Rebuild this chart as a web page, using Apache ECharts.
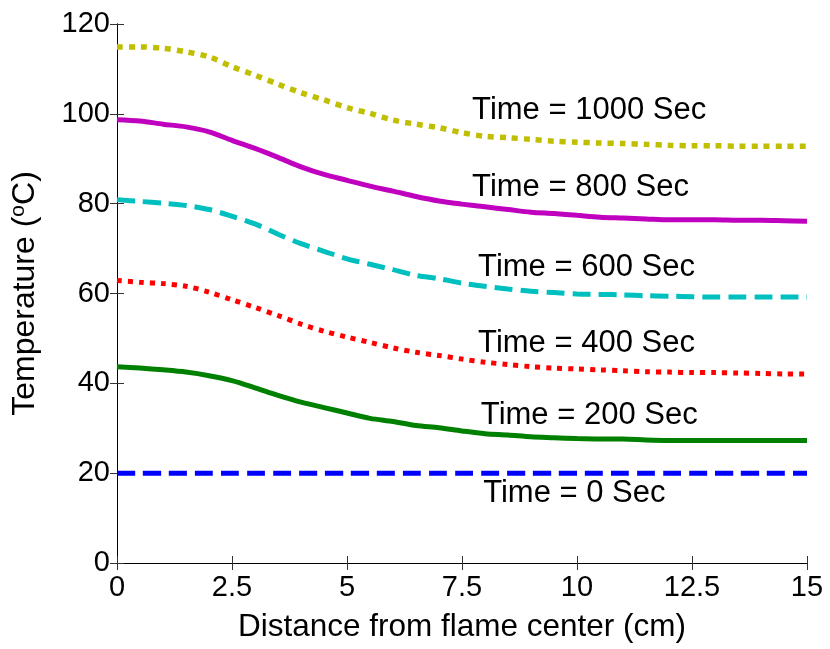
<!DOCTYPE html>
<html>
<head>
<meta charset="utf-8">
<script src="https://cdn.jsdelivr.net/npm/echarts@6/dist/echarts.min.js"></script>
<style>html,body{margin:0;padding:0;background:#fff}#c{width:830px;height:649px}</style>
</head>
<body>
<div id="c"></div>
<script>
const distance = [0,0.5,1,1.5,2,2.5,3,3.5,4,4.5,5,5.5,6,6.5,7,7.5,8,8.5,9,9.5,10,10.5,11,11.5,12,12.5,13,13.5,14,14.5,15];
const t0 = [20,20,20,20,20,20,20,20,20,20,20,20,20,20,20,20,20,20,20,20,20,20,20,20,20,20,20,20,20,20,20];
const t200 = [43.7,43.4,43.0,42.5,41.7,40.6,39.0,37.3,35.8,34.6,33.4,32.2,31.5,30.6,30.1,29.4,28.8,28.5,28.1,27.9,27.7,27.6,27.6,27.4,27.3,27.3,27.3,27.3,27.3,27.3,27.3];
const t400 = [62.9,62.5,62.2,61.6,60.3,58.6,56.9,55.1,53.2,51.6,50.3,49.1,47.9,46.9,46.2,45.4,44.7,44.2,43.7,43.4,43.2,43.0,42.8,42.6,42.5,42.4,42.4,42.3,42.2,42.1,42.1];
const t600 = [80.9,80.5,80.1,79.6,78.7,77.2,75.5,73.2,71.1,69.4,67.7,66.5,65.3,64.0,63.3,62.3,61.6,61.0,60.5,60.2,59.9,59.8,59.7,59.5,59.4,59.3,59.2,59.2,59.2,59.2,59.2];
const t800 = [98.7,98.4,97.7,97.1,96.0,94.1,92.3,90.3,88.2,86.5,85.2,83.9,82.8,81.6,80.6,79.9,79.3,78.7,78.1,77.8,77.4,77.0,76.8,76.6,76.4,76.4,76.4,76.3,76.3,76.2,76.1];
const t1000 = [114.9,114.9,114.6,113.8,112.7,110.5,108.6,106.6,104.7,103.1,101.4,100.1,98.6,97.7,96.9,95.8,95.0,94.7,94.3,93.9,93.7,93.5,93.4,93.2,93.0,92.9,92.9,92.8,92.8,92.8,92.8];
const labelTexts = ['Time = 1000 Sec','Time = 800 Sec','Time = 600 Sec','Time = 400 Sec','Time = 200 Sec','Time = 0 Sec'];
const labelX = [7.72,7.72,7.85,7.85,7.91,7.96];
const labelY = [100.8,83.7,65.9,48.8,32.8,15.4];
const xTicks = ['0','2.5','5','7.5','10','12.5','15'];

const FONT = "'Liberation Sans', Arial, sans-serif";
const chart = echarts.init(document.getElementById('c'), null, {renderer:'canvas'});
const pair = arr => distance.map((d,i)=>[d,arr[i]]);
function line(name, arr, color, type, width){
  return {name, type:'line', data:pair(arr), showSymbol:false, symbol:'none', smooth:0.3,
    lineStyle:{color, width, type, cap:'butt'}, z:2, animation:false};
}
const axisCommon = {
  axisLine:{show:true, lineStyle:{color:'#000', width:1}},
  axisTick:{show:true, inside:true, length:7, lineStyle:{color:'#333', width:1}},
  splitLine:{show:false}
};
chart.setOption({
  animation:false,
  backgroundColor:'#fff',
  grid:{left:117, right:23, top:24, bottom:86},
  xAxis:[
    Object.assign({type:'value', min:0, max:15, interval:2.5, position:'bottom',
      name:'Distance from flame center (cm)', nameLocation:'middle', nameGap:48,
      nameTextStyle:{fontSize:31.5, fontFamily:FONT, color:'#000'},
      axisLabel:{fontSize:29, fontFamily:FONT, color:'#000', margin:10,
        formatter:(v)=>xTicks[Math.round(v/2.5)]}}, axisCommon),
    Object.assign({type:'value', min:0, max:15, interval:2.5, position:'top',
      axisLabel:{show:false}}, axisCommon)
  ],
  yAxis:[
    Object.assign({type:'value', min:0, max:120, interval:20, position:'left',
      name:'Temperature ({sup|o}C)', nameLocation:'middle', nameGap:74,
      nameTextStyle:{fontSize:32, fontFamily:FONT, color:'#000',
        rich:{sup:{fontSize:21, fontFamily:FONT, color:'#000', padding:[0,0,14,0]}}},
      axisLabel:{fontSize:29, fontFamily:FONT, color:'#000', margin:7}}, axisCommon),
    Object.assign({type:'value', min:0, max:120, interval:20, position:'right',
      axisLabel:{show:false}}, axisCommon)
  ],
  series:[
    line('0 Sec', t0, '#0000FF', [18,8], 5),
    line('200 Sec', t200, '#008000', 'solid', 5),
    line('400 Sec', t400, '#FF0000', [5,6], 5),
    line('600 Sec', t600, '#00BFBF', [18,8], 5),
    line('800 Sec', t800, '#BF00BF', 'solid', 5),
    line('1000 Sec', t1000, '#BFBF00', [6,6], 5.5),
    {type:'scatter', symbolSize:0, z:5, silent:true, itemStyle:{opacity:1},
      data:labelTexts.map((t,i)=>({value:[labelX[i],labelY[i]], name:t})),
      label:{show:true, position:'right', distance:0, formatter:(p)=>p.name,
        fontSize:31, fontFamily:FONT, color:'#000', opacity:1, align:'left', verticalAlign:'middle'}}
  ]
});
</script>
</body>
</html>
